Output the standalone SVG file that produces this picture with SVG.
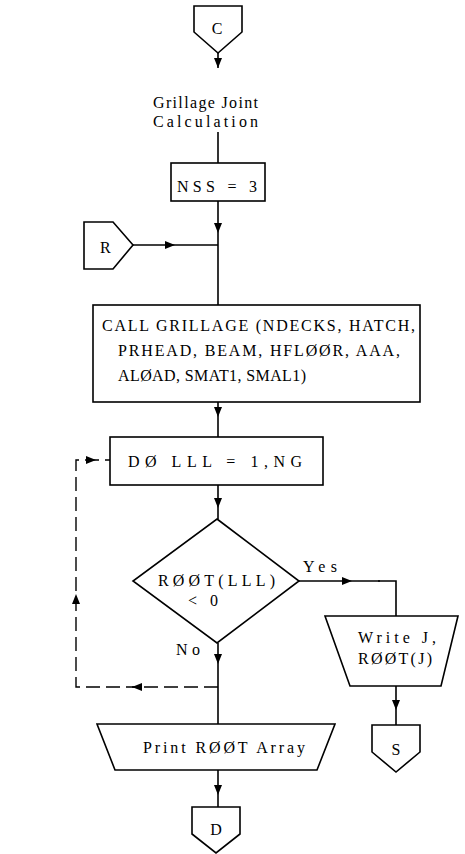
<svg xmlns="http://www.w3.org/2000/svg" width="465" height="854" viewBox="0 0 465 854">
<style>
.s{fill:#fff;stroke:#000;stroke-width:1.6}
.l{fill:none;stroke:#000;stroke-width:1.6}
.d{fill:none;stroke:#000;stroke-width:1.4;stroke-dasharray:14 6}
text{font-family:"Liberation Serif","DejaVu Serif",serif;font-size:16px;fill:#000}
.c{text-anchor:middle}
</style>
<defs>
<marker id="ah" viewBox="0 0 10 8" refX="10" refY="4" markerWidth="10" markerHeight="8" markerUnits="userSpaceOnUse" orient="auto">
<path d="M0 0 L10 4 L0 8 Z" fill="#000"/>
</marker>
</defs>
<rect width="465" height="854" fill="#fff"/>
<g id="connectors">
<path class="l" d="M218 53 V68" marker-end="url(#ah)"/>
<path class="l" d="M218 132 V163"/>
<path class="l" d="M218 201 V233 V305" marker-mid="url(#ah)"/>
<path class="l" d="M133 245 H175 H218" marker-mid="url(#ah)"/>
<path class="l" d="M218 402 V417 V437" marker-mid="url(#ah)"/>
<path class="l" d="M218 485 V508 V519" marker-mid="url(#ah)"/>
<path class="l" d="M299 581 H352 H380" marker-mid="url(#ah)"/>
<path class="l" d="M378 581 H396 V616"/>
<path class="l" d="M218 643 V664 V724" marker-mid="url(#ah)"/>
<path class="l" d="M396 686 V710 V725" marker-mid="url(#ah)"/>
<path class="l" d="M218 770 V795 V807" marker-mid="url(#ah)"/>
<path class="d" d="M218 687 H132"/>
<path class="d" d="M140 687 H76 V460 H110"/>
<path d="M132 687 l10 -4 v8 Z M76 594 l-4 10 h8 Z M96 460 l-10 -4 v8 Z" fill="#000"/>
</g>
<g id="C">
<path class="s" d="M194 6 H242 V32 L218 53 L194 32 Z"/>
<text class="c" x="217" y="34">C</text>
</g>
<g id="title">
<text x="153" y="108" textLength="105" lengthAdjust="spacing">Grillage Joint</text>
<text x="153" y="127" textLength="105" lengthAdjust="spacing">Calculation</text>
</g>
<g id="nss">
<rect class="s" x="171" y="163" width="94" height="38"/>
<text x="177" y="192" textLength="80" lengthAdjust="spacing">NSS = 3</text>
</g>
<g id="R">
<path class="s" d="M84 222 H113 L133 245 L113 269 H84 Z"/>
<text x="100" y="253">R</text>
</g>
<g id="call">
<rect class="s" x="93" y="305" width="327" height="97"/>
<text x="102" y="331" textLength="313" lengthAdjust="spacing">CALL GRILLAGE (NDECKS, HATCH,</text>
<text x="118" y="356" textLength="282" lengthAdjust="spacing">PRHEAD, BEAM, HFLØØR, AAA,</text>
<text x="118" y="381" textLength="188" lengthAdjust="spacing">ALØAD, SMAT1, SMAL1)</text>
</g>
<g id="do">
<rect class="s" x="110" y="437" width="213" height="48"/>
<text x="128" y="467" textLength="174" lengthAdjust="spacing">DØ  LLL = 1,NG</text>
</g>
<g id="decision">
<path class="s" d="M217 519 L299 581 L217 643 L133 581 Z"/>
<text x="158" y="586" textLength="117" lengthAdjust="spacing">RØØT(LLL)</text>
<text x="188" y="606" textLength="30" lengthAdjust="spacing">&lt; 0</text>
<text x="303" y="572" textLength="34" lengthAdjust="spacing">Yes</text>
<text x="176" y="655" textLength="24" lengthAdjust="spacing">No</text>
</g>
<g id="write">
<path class="s" d="M325 616 H458 L441 686 H350 Z"/>
<text x="358" y="643" textLength="78" lengthAdjust="spacing">Write J,</text>
<text x="358" y="664" textLength="74" lengthAdjust="spacing">RØØT(J)</text>
</g>
<g id="S">
<path class="s" d="M372 725 H420 V752 L396 772 L372 752 Z"/>
<text class="c" x="396" y="755">S</text>
</g>
<g id="print">
<path class="s" d="M97 724 H335 L317 770 H115 Z"/>
<text x="143" y="753" textLength="162" lengthAdjust="spacing">Print RØØT Array</text>
</g>
<g id="D">
<path class="s" d="M192 807 H240 V834 L216 853 L192 834 Z"/>
<text class="c" x="216" y="835">D</text>
</g>
</svg>
